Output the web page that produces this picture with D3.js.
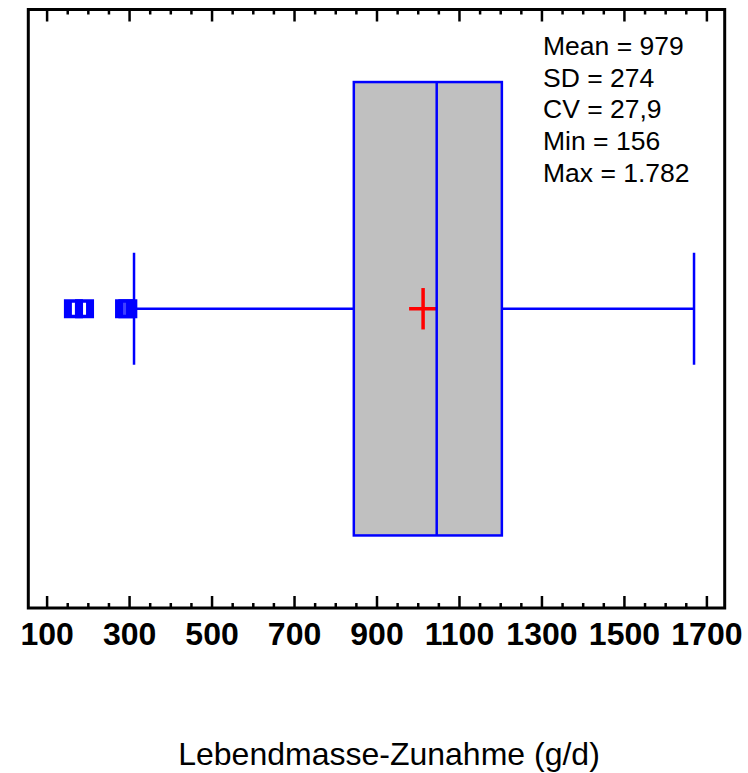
<!DOCTYPE html>
<html>
<head>
<meta charset="utf-8">
<script src="https://cdn.jsdelivr.net/npm/d3@7"></script>
<style>
  html, body { margin: 0; padding: 0; background: #fff; }
  svg { display: block; font-family: "Liberation Sans", Arial, sans-serif; }
</style>
</head>
<body>
<svg id="chart" width="748" height="773"></svg>
<script>
// ---- data ----
const axisTitle = "Lebendmasse-Zunahme (g/d)";
const quartiles = [845, 1046, 1204];      // Q1, median, Q3
const whiskers = [312, 1670];             // lower, upper whisker
const meanValue = [1013];
const outliers = [192, 165, 297, 289];
const majorTicks = [100, 300, 500, 700, 900, 1100, 1300, 1500, 1700];
const minorTicks = [150, 200, 250, 350, 400, 450, 550, 600, 650, 750, 800, 850,
                    950, 1000, 1050, 1150, 1200, 1250, 1350, 1400, 1450,
                    1550, 1600, 1650];
const statLabels = ["Mean = 979", "SD = 274", "CV = 27,9", "Min = 156", "Max = 1.782"];

// ---- layout ----
const W = 748, H = 773;
const frame = { left: 28.3, right: 724.7, top: 9.5, bottom: 608 };
const blue = "#0000ff", red = "#ff0000", boxFill = "#c0c0c0";

const svg = d3.select("#chart");
svg.append("rect").attr("width", W).attr("height", H).attr("fill", "#fff");

const x = d3.scaleLinear().domain([100, 1700]).range([46.6, 706.4]);
const y = d3.scaleLinear().domain([0, 1]).range([frame.bottom, frame.top]);
const yc = y(0.5);
const boxHalf = 226.7;
const capHalf = 56;

// ---- axes (ticks inside the frame) ----
const bottomMajor = d3.axisBottom(x).tickValues(majorTicks).tickSizeInner(-12).tickSizeOuter(0).tickPadding(14).tickFormat(d3.format("d"));
const bottomMinor = d3.axisBottom(x).tickValues(minorTicks).tickSizeInner(-5).tickSizeOuter(0).tickFormat("");
const topMajor = d3.axisTop(x).tickValues(majorTicks).tickSizeInner(-12).tickSizeOuter(0).tickFormat("");
const topMinor = d3.axisTop(x).tickValues(minorTicks).tickSizeInner(-5).tickSizeOuter(0).tickFormat("");

function styleAxis(g) {
  g.select(".domain").remove();
  g.selectAll(".tick line").attr("stroke", "#000").attr("stroke-width", 2.5);
  g.selectAll(".tick text").attr("fill", "#000").attr("font-size", 32).attr("font-weight", "bold")
    .attr("font-family", "'Liberation Sans', Arial, sans-serif");
}
svg.append("g").attr("transform", `translate(0,${frame.bottom})`).call(bottomMajor).call(styleAxis);
svg.append("g").attr("transform", `translate(0,${frame.bottom})`).call(bottomMinor).call(styleAxis);
svg.append("g").attr("transform", `translate(0,${frame.top})`).call(topMajor).call(styleAxis);
svg.append("g").attr("transform", `translate(0,${frame.top})`).call(topMinor).call(styleAxis);

// ---- frame ----
svg.append("rect")
  .attr("x", frame.left).attr("y", frame.top)
  .attr("width", frame.right - frame.left).attr("height", frame.bottom - frame.top)
  .attr("fill", "none").attr("stroke", "#000").attr("stroke-width", 3);

// ---- box plot ----
const g = svg.append("g");
// whisker lines
g.selectAll("line.whisker").data([[whiskers[0], quartiles[0]], [quartiles[2], whiskers[1]]])
  .join("line").attr("class", "whisker")
  .attr("x1", d => x(d[0])).attr("x2", d => x(d[1]))
  .attr("y1", yc).attr("y2", yc)
  .attr("stroke", blue).attr("stroke-width", 2.5);
// caps
g.selectAll("line.cap").data(whiskers).join("line").attr("class", "cap")
  .attr("x1", d => x(d)).attr("x2", d => x(d))
  .attr("y1", yc - capHalf).attr("y2", yc + capHalf)
  .attr("stroke", blue).attr("stroke-width", 2.5);
// box
g.append("rect")
  .attr("x", x(quartiles[0])).attr("y", yc - boxHalf)
  .attr("width", x(quartiles[2]) - x(quartiles[0])).attr("height", 2 * boxHalf)
  .attr("fill", boxFill).attr("stroke", blue).attr("stroke-width", 2.5);
// mean cross
meanValue.forEach(m => {
  g.append("line").attr("x1", x(m) - 14).attr("x2", x(m) + 14).attr("y1", yc).attr("y2", yc)
    .attr("stroke", red).attr("stroke-width", 3.5);
  g.append("line").attr("x1", x(m)).attr("x2", x(m)).attr("y1", yc - 20.7).attr("y2", yc + 20.7)
    .attr("stroke", red).attr("stroke-width", 3.5);
});
// median
g.append("line")
  .attr("x1", x(quartiles[1])).attr("x2", x(quartiles[1]))
  .attr("y1", yc - boxHalf).attr("y2", yc + boxHalf)
  .attr("stroke", blue).attr("stroke-width", 2.5);
// outliers
const ms = 19;
outliers.forEach((v, i) => {
  const cx = x(v);
  g.append("rect").attr("x", cx - ms / 2).attr("y", yc - ms / 2)
    .attr("width", ms).attr("height", ms).attr("fill", blue);
  g.append("rect").attr("x", cx - 1.5).attr("y", yc - 6)
    .attr("width", 3).attr("height", 12).attr("fill", "#fff")
    .attr("opacity", i >= 2 ? 0.25 : 1);
});

// ---- statistics text ----
svg.append("g").selectAll("text").data(statLabels).join("text")
  .attr("x", 543).attr("y", (d, i) => 55 + i * 31.7)
  .attr("font-size", 26.5).attr("fill", "#000")
  .text(d => d);

// ---- axis title ----
svg.append("text")
  .attr("x", 389).attr("y", 765)
  .attr("text-anchor", "middle").attr("font-size", 32).attr("fill", "#000")
  .text(axisTitle);
</script>
</body>
</html>
